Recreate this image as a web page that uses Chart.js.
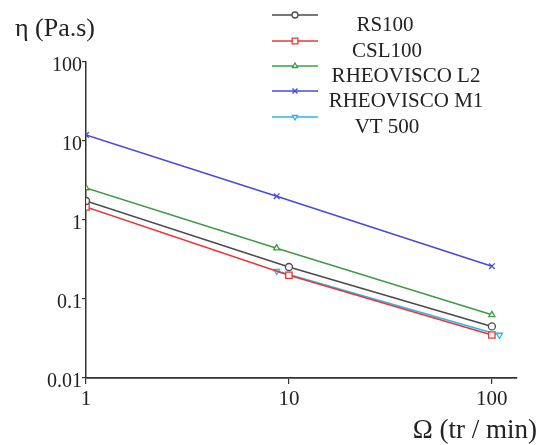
<!DOCTYPE html>
<html>
<head>
<meta charset="utf-8">
<title>Viscosity vs rotation speed</title>
<script src="https://cdn.jsdelivr.net/npm/chart.js@4.4.1/dist/chart.umd.min.js"></script>
<style>
  html, body { margin: 0; padding: 0; background: #fff; }
  canvas { display: block; }
</style>
</head>
<body>
<canvas id="visco-chart" width="542" height="445"></canvas>
<script>
// Series values (x in tr/min, y in Pa.s)
const seriesNames = ['RS100', 'CSL100', 'RHEOVISCO L2', 'RHEOVISCO M1', 'VT 500'];

const rs100X = [1, 10, 100];
const rs100Y = [1.74, 0.254, 0.045];

const csl100X = [1, 10, 100];
const csl100Y = [1.46, 0.2, 0.035];

const rheoL2X = [1, 8.7, 100];
const rheoL2Y = [2.54, 0.44, 0.063];

const rheoM1X = [1, 8.7, 100];
const rheoM1Y = [11.9, 2.0, 0.26];

const vt500X = [8.7, 109];
const vt500Y = [0.226, 0.035];

// Axis ticks
const xTickValues = [1, 10, 100];
const xTickLabels = ['1', '10', '100'];
const yTickValues = [0.01, 0.1, 1, 10, 100];
const yTickLabels = ['0.01', '0.1', '1', '10', '100'];

const FONT = '"Liberation Serif", "DejaVu Serif", serif';
const INK = '#222';

// zip x/y arrays into points
function toPoints(xs, ys) {
  return xs.map((x, i) => ({ x: x, y: ys[i] }));
}

function makeDataset(label, xs, ys, color, style, extra) {
  return Object.assign({
    label: label,
    data: toPoints(xs, ys),
    borderColor: color,
    backgroundColor: '#fff',
    pointBorderColor: color,
    pointBackgroundColor: 'rgba(255,255,255,0.9)',
    borderWidth: 1.6,
    pointStyle: style,
    pointRadius: 3.5,
    pointBorderWidth: 1.3,
    tension: 0,
    fill: false
  }, extra || {});
}

const datasets = [
  makeDataset(seriesNames[0], rs100X, rs100Y, '#4a4a4a', 'circle', { pointRadius: 3.5 }),
  makeDataset(seriesNames[1], csl100X, csl100Y, '#e23a3a', 'rect', { pointRadius: 4.5 }),
  makeDataset(seriesNames[2], rheoL2X, rheoL2Y, '#3d9c44', 'triangle', { pointRadius: 3.5 }),
  makeDataset(seriesNames[3], rheoM1X, rheoM1Y, '#4848e0', 'crossRot', { pointRadius: 4 }),
  makeDataset(seriesNames[4], vt500X, vt500Y, '#2fb4ea', 'triangle', { pointRadius: 3.5, pointRotation: 180 })
];

// Titles + legend drawn by hand (the layout is not a standard one)
const annotations = {
  id: 'annotations',
  afterDraw(chart) {
    const c = chart.ctx;
    c.save();
    c.fillStyle = INK;
    c.textBaseline = 'alphabetic';

    c.font = '26px ' + FONT;
    c.textAlign = 'left';
    c.fillText('\u03B7 (Pa.s)', 15, 36);

    c.font = '27px ' + FONT;
    c.textAlign = 'right';
    c.fillText('\u03A9 (tr / min)', 537, 438);

    // legend
    const rowY = [15, 41, 66, 91, 117];
    const labelX = [385, 387, 406, 406, 387];
    c.font = '21px ' + FONT;
    c.textAlign = 'center';
    c.textBaseline = 'middle';
    chart.data.datasets.forEach((ds, i) => {
      const y = rowY[i];
      c.strokeStyle = ds.borderColor;
      c.lineWidth = 1.6;
      c.beginPath();
      c.moveTo(272, y);
      c.lineTo(318, y);
      c.stroke();
      // open marker: white fill, coloured outline
      c.fillStyle = '#fff';
      c.strokeStyle = ds.borderColor;
      c.lineWidth = ds.pointBorderWidth;
      Chart.helpers.drawPoint(c, {
        pointStyle: ds.pointStyle,
        radius: ds.pointRadius - 0.5,
        rotation: ds.pointRotation || 0,
        borderWidth: ds.pointBorderWidth
      }, 295, y);
      c.fillStyle = INK;
      c.fillText(ds.label, labelX[i], y + 10);
    });
    c.restore();
  }
};

new Chart(document.getElementById('visco-chart').getContext('2d'), {
  type: 'line',
  data: { datasets: datasets },
  options: {
    responsive: false,
    animation: false,
    devicePixelRatio: 1,
    layout: { padding: { left: 0, top: 62, right: 25, bottom: 0 } },
    plugins: {
      legend: { display: false },
      tooltip: { enabled: false }
    },
    scales: {
      x: {
        type: 'logarithmic',
        min: 1,
        max: 133,
        afterBuildTicks: (scale) => {
          scale.ticks = xTickValues.map(v => ({ value: v }));
        },
        afterFit: (scale) => { scale.height = 67; },
        border: { color: '#333', width: 1.8 },
        grid: { drawOnChartArea: false, drawTicks: true, tickLength: 6, color: '#333', lineWidth: 1.2 },
        ticks: {
          color: INK,
          font: { family: FONT, size: 21 },
          padding: 3,
          maxRotation: 0,
          autoSkip: false,
          callback: (value, i) => xTickLabels[i]
        }
      },
      y: {
        type: 'logarithmic',
        min: 0.01,
        max: 100,
        afterBuildTicks: (scale) => {
          scale.ticks = yTickValues.map(v => ({ value: v }));
        },
        afterFit: (scale) => { scale.width = 86; },
        border: { color: '#333', width: 1.5 },
        grid: { drawOnChartArea: false, drawTicks: true, tickLength: 4, color: '#333', lineWidth: 1.2 },
        ticks: {
          color: INK,
          font: { family: FONT, size: 20 },
          padding: 0,
          labelOffset: 4,
          autoSkip: false,
          callback: (value, i) => yTickLabels[i]
        }
      }
    }
  },
  plugins: [annotations]
});
</script>
</body>
</html>
